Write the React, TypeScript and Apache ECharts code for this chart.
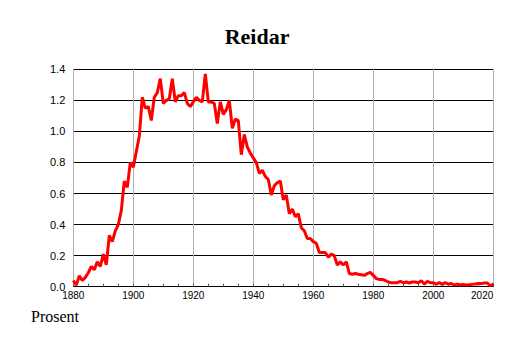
import React, { useEffect, useRef } from "react";
import * as echarts from "echarts";

const startYear = 1880;
const values: number[] = [
  // 1880-1889
  0.04, 0.01, 0.07, 0.04, 0.06, 0.09, 0.13, 0.11, 0.16, 0.13,
  // 1890-1899
  0.21, 0.14, 0.33, 0.29, 0.36, 0.40, 0.49, 0.68, 0.64, 0.80,
  // 1900-1909
  0.77, 0.87, 0.97, 1.22, 1.15, 1.16, 1.07, 1.22, 1.25, 1.34,
  // 1910-1919
  1.18, 1.20, 1.21, 1.34, 1.19, 1.23, 1.23, 1.25, 1.18, 1.16,
  // 1920-1929
  1.19, 1.22, 1.20, 1.19, 1.37, 1.19, 1.19, 1.18, 1.05, 1.19,
  // 1930-1939
  1.11, 1.14, 1.20, 1.02, 1.08, 1.07, 0.85, 0.98, 0.90, 0.86,
  // 1940-1949
  0.83, 0.80, 0.73, 0.75, 0.71, 0.69, 0.59, 0.65, 0.67, 0.68,
  // 1950-1959
  0.56, 0.59, 0.47, 0.50, 0.45, 0.47, 0.38, 0.36, 0.31, 0.31,
  // 1960-1969
  0.29, 0.28, 0.22, 0.22, 0.22, 0.19, 0.21, 0.20, 0.14, 0.16,
  // 1970-1979
  0.14, 0.16, 0.085, 0.08, 0.085, 0.08, 0.077, 0.073, 0.084, 0.092,
  // 1980-1989
  0.073, 0.052, 0.047, 0.047, 0.04, 0.03, 0.026, 0.026, 0.026, 0.034,
  // 1990-1999
  0.026, 0.03, 0.024, 0.03, 0.03, 0.026, 0.039, 0.017, 0.034, 0.026,
  // 2000-2009
  0.026, 0.017, 0.026, 0.015, 0.026, 0.017, 0.02, 0.011, 0.017, 0.011,
  // 2010-2019
  0.015, 0.011, 0.013, 0.015, 0.017, 0.02, 0.02, 0.024, 0.024, 0.006,
  // 2020
  0.017,
];
const years: number[] = values.map((_, i) => startYear + i);

const titleText = "Reidar";
const yAxisName = "Prosent";
const xMin = 1880;
const xMax = 2020;
const xInterval = 20;
const yMin = 0;
const yMax = 1.4;
const yInterval = 0.2;

export default function App() {
  const ref = useRef<HTMLDivElement>(null);

  useEffect(() => {
    if (!ref.current) return;
    const chart = echarts.init(ref.current, undefined, { renderer: "svg" });
    chart.setOption({
      animation: false,
      backgroundColor: "#ffffff",
      title: {
        text: titleText,
        left: "center",
        top: 20,
        textStyle: {
          fontFamily: "Liberation Serif",
          fontWeight: "bold",
          fontSize: 22,
          color: "#000000",
        },
      },
      graphic: [
        {
          type: "text",
          left: 31,
          top: 308,
          style: {
            text: yAxisName,
            fontFamily: "Liberation Serif",
            fontSize: 16,
            fill: "#000000",
          },
        },
      ],
      grid: {
        left: 73.3,
        right: 20.7,
        top: 69.3,
        bottom: 56.3,
        containLabel: false,
      },
      xAxis: {
        type: "value",
        min: xMin,
        max: xMax,
        interval: xInterval,
        axisLine: { show: true, lineStyle: { color: "#000000", width: 1 } },
        axisTick: { show: true, inside: true, length: 3, lineStyle: { color: "#555555" } },
        minorTick: { show: true, splitNumber: 4, length: 3, lineStyle: { color: "#555555" } },
        splitLine: { show: true, lineStyle: { color: "#b0b0b0", width: 1 } },
        axisLabel: {
          margin: 4,
          fontFamily: "Liberation Sans",
          fontSize: 10,
          color: "#000000",
          alignMaxLabel: "right",
          formatter: (v: number) => String(v),
        },
      },
      yAxis: {
        type: "value",
        min: yMin,
        max: yMax,
        interval: yInterval,
        axisLine: { show: false },
        axisTick: { show: false },
        splitLine: { show: true, lineStyle: { color: "#000000", width: 1 } },
        axisLabel: {
          margin: 8,
          fontFamily: "Liberation Sans",
          fontSize: 11,
          color: "#000000",
          formatter: (v: number) => v.toFixed(1),
        },
      },
      series: [
        {
          type: "line",
          data: years.map((y, i) => [y, values[i]]),
          showSymbol: false,
          symbol: "none",
          lineStyle: { color: "#ff0000", width: 3 },
          clip: true,
          z: 5,
        },
      ],
    });
    return () => chart.dispose();
  }, []);

  return (
    <div
      ref={ref}
      style={{ position: "fixed", left: 0, top: 0, width: 514, height: 343 }}
    />
  );
}
